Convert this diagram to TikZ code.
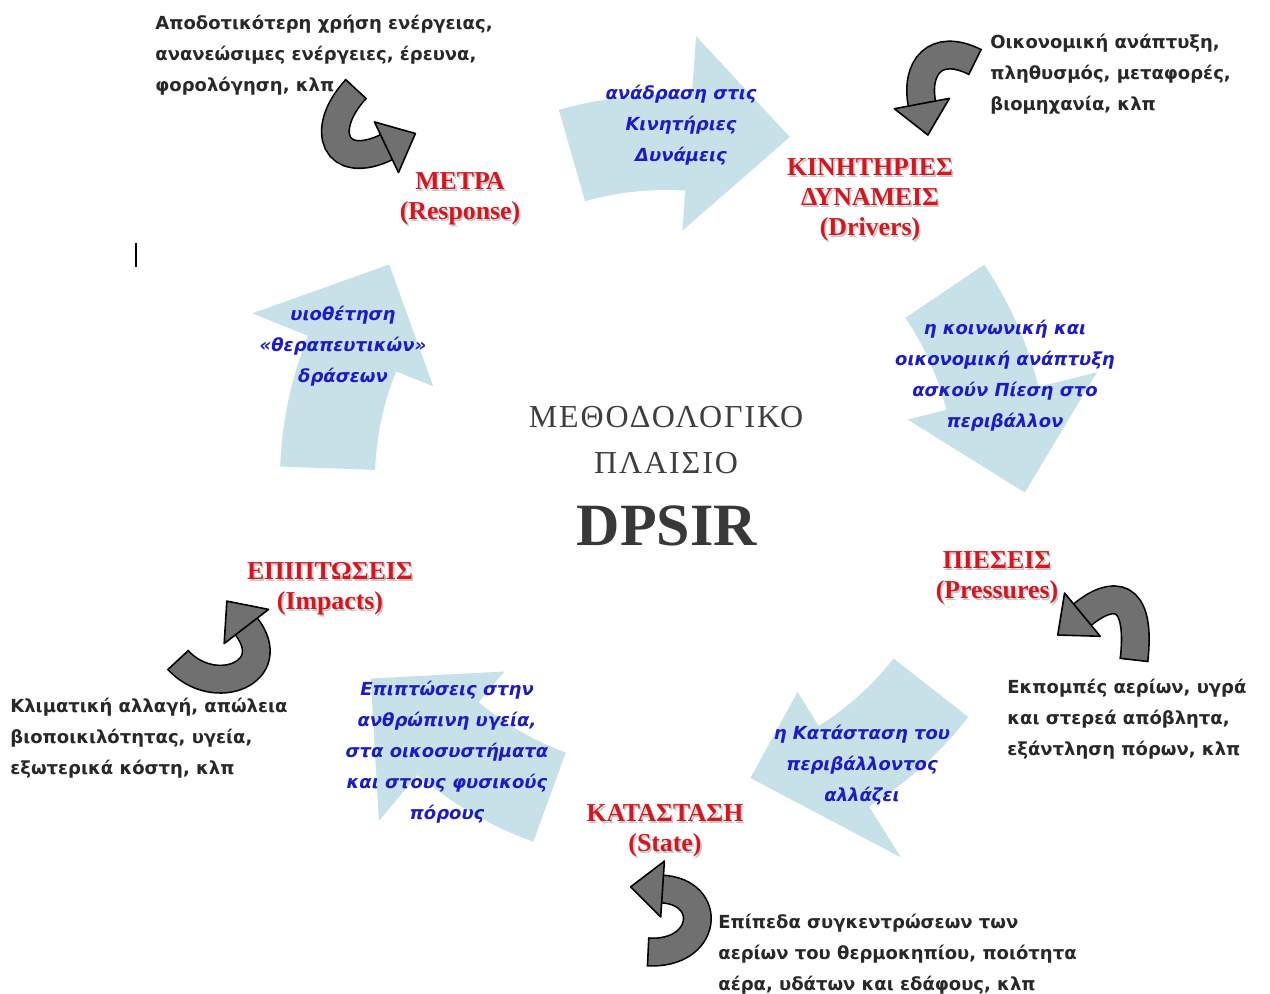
\documentclass[tikz,border=0pt]{standalone}
\usepackage{fontspec}
\setmainfont{Liberation Serif}
\newfontfamily\notefont{DejaVu Sans}[BoldFont={DejaVu Sans Bold},ItalicFont={DejaVu Sans Oblique},BoldItalicFont={DejaVu Sans Bold Oblique}]
\newfontfamily\titlefont{Liberation Serif}[LetterSpace=6]
\usetikzlibrary{decorations.markings}

\definecolor{cyclefill}{RGB}{198,226,232}
\definecolor{arrowgrey}{RGB}{112,112,112}
\definecolor{stagered}{RGB}{214,22,30}
\definecolor{flowblue}{RGB}{28,28,196}
\definecolor{notetext}{RGB}{40,40,40}
\definecolor{titlegrey}{RGB}{62,62,62}

% hub of the DPSIR cycle (pixel grid, y downwards)
\def\hubx{665}
\def\huby{480}

\tikzset{
  stage/.style={font=\bfseries\fontsize{12.9}{15}\selectfont, text=stagered, align=center, inner sep=0pt},
  flow/.style={font=\notefont\bfseries\itshape\fontsize{9}{15.5}\selectfont, text=flowblue, align=center, inner sep=0pt},
  note/.style={font=\notefont\bfseries\fontsize{9}{15.5}\selectfont, text=notetext, align=left, inner sep=0pt, anchor=west},
  heading/.style={font=\titlefont\fontsize{16}{18}\selectfont, text=titlegrey, inner sep=0pt},
}

% one pale curved arrow of the cycle, centred on angle #1 (counter-clockwise, degrees), tip at radius #2
\newcommand\cyclearrow[2]{%
  \pgfmathsetmacro\tailang{#1+18}%
  \pgfmathsetmacro\baseang{#1-2}%
  \pgfmathsetmacro\tipang{#1-18}%
  \fill[cyclefill]
    plot[domain=\tailang:\baseang, samples=30] ({\hubx+385*cos(\x)}, {\huby-385*sin(\x)})
    -- ({\hubx+445*cos(\baseang)}, {\huby-445*sin(\baseang)})
    -- ({\hubx+#2*cos(\tipang)}, {\huby-#2*sin(\tipang)})
    -- ({\hubx+250*cos(\baseang)}, {\huby-250*sin(\baseang)})
    -- plot[domain=\baseang:\tailang, samples=30] ({\hubx+290*cos(\x)}, {\huby-290*sin(\x)})
    -- cycle;
}

% grey bent arrow along a given path
\newcommand\twistarrow[1]{%
  \draw[line width=14.6pt, black] #1;
  \draw[line width=13pt, arrowgrey] #1;
  \path[decorate, decoration={markings,
      mark=at position 0.001 with {\draw[line width=0.8pt] (0pt,-7.3pt) -- (0pt,7.3pt);},
      mark=at position 0.995 with {\filldraw[fill=arrowgrey, draw=black, line width=0.8pt, line join=round]
        (0pt,-14pt) -- (16pt,0pt) -- (0pt,14pt) -- cycle;}}] #1;
}

% red stage label with a soft shadow
\newcommand\stagelabel[3]{%
  \node[stage, text=black!22, xshift=0.8pt, yshift=-0.8pt] (#1-shadow) at (#2) {#3};
  \node[stage] (#1) at (#2) {#3};
}

\begin{document}
\begin{tikzpicture}[x=0.5pt, y=-0.5pt]
\useasboundingbox (0,0) rectangle (1270,994);
\fill[white] (0,0) rectangle (1270,994);

% the five pale arrows of the cycle
\cyclearrow{88}{365}
\cyclearrow{16}{360}
\cyclearrow{-56}{310}
\cyclearrow{-128}{355}
\cyclearrow{160}{350}

% text cursor mark
\draw[line width=1.4pt] (136,243) -- (136,267);

% grey bent arrows beside each stage
\coordinate (g1s) at (356,89);   \coordinate (g1e) at (387,147);
\coordinate (g2s) at (975,62);   \coordinate (g2e) at (922,104);
\coordinate (g3s) at (1134,660); \coordinate (g3e) at (1082,615);
\coordinate (g4s) at (648,952);  \coordinate (g4e) at (662,889);
\coordinate (g5s) at (178,660);  \coordinate (g5e) at (246,626);
\twistarrow{(g1s) .. controls (318,130) and (335,172) .. (g1e)}
\twistarrow{(g2s) .. controls (935,42) and (915,68) .. (g2e)}
\twistarrow{(g3s) .. controls (1142,590) and (1112,590) .. (g3e)}
\twistarrow{(g4s) .. controls (708,955) and (714,892) .. (g4e)}
\twistarrow{(g5s) .. controls (215,700) and (282,672) .. (g5e)}

% stage labels
\stagelabel{resp}{460,199}{ΜΕΤΡΑ\\(Response)}
\stagelabel{drv}{870,200}{ΚΙΝΗΤΗΡΙΕΣ\\ΔΥΝΑΜΕΙΣ\\(Drivers)}
\stagelabel{prs}{997,578}{ΠΙΕΣΕΙΣ\\(Pressures)}
\stagelabel{sta}{665,831}{ΚΑΤΑΣΤΑΣΗ\\(State)}
\stagelabel{imp}{330,589}{ΕΠΙΠΤΩΣΕΙΣ\\(Impacts)}

% texts on the pale arrows
\node[flow] (f1) at (681,125) {ανάδραση στις\\Κινητήριες\\Δυνάμεις};
\node[flow] (f2) at (1005,376) {η κοινωνική και\\οικονομική ανάπτυξη\\ασκούν Πίεση στο\\περιβάλλον};
\node[flow] (f3) at (862,765) {η Κατάσταση του\\περιβάλλοντος\\αλλάζει};
\node[flow] (f4) at (447,752) {Επιπτώσεις στην\\ανθρώπινη υγεία,\\στα οικοσυστήματα\\και στους φυσικούς\\πόρους};
\node[flow] (f5) at (343,346) {υιοθέτηση\\«θεραπευτικών»\\δράσεων};

% examples for each stage
\node[note] (n1) at (155,55) {Αποδοτικότερη χρήση ενέργειας,\\ανανεώσιμες ενέργειες, έρευνα,\\φορολόγηση, κλπ};
\node[note] (n2) at (990,74) {Οικονομική ανάπτυξη,\\πληθυσμός, μεταφορές,\\βιομηχανία, κλπ};
\node[note] (n3) at (1007,719) {Εκπομπές αερίων, υγρά\\και στερεά απόβλητα,\\εξάντληση πόρων, κλπ};
\node[note] (n4) at (718,954) {Επίπεδα συγκεντρώσεων των\\αερίων του θερμοκηπίου, ποιότητα\\αέρα, υδάτων και εδάφους, κλπ};
\node[note] (n5) at (10,738) {Κλιματική αλλαγή, απώλεια\\βιοποικιλότητας, υγεία,\\εξωτερικά κόστη, κλπ};

% central title
\node[heading] (t1) at (666,417) {ΜΕΘΟΔΟΛΟΓΙΚΟ};
\node[heading] (t2) at (666,463) {ΠΛΑΙΣΙΟ};
\node[font=\bfseries\fontsize{30}{32}\selectfont, text=black!78, inner sep=0pt] (dpsir) at (667,526) {DPSIR};
\end{tikzpicture}
\end{document}
